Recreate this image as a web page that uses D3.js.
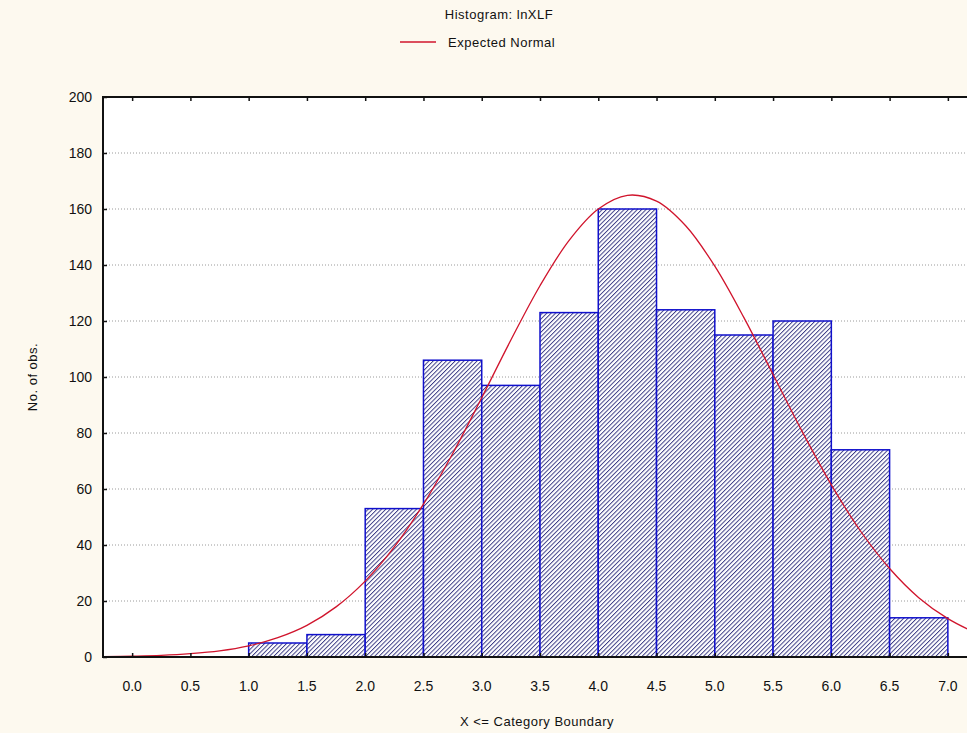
<!DOCTYPE html>
<html>
<head>
<meta charset="utf-8">
<script src="https://cdn.jsdelivr.net/npm/d3@7"></script>
<style>
  body { margin: 0; background: #fdf9ef; }
  text { font-family: "Liberation Sans", Arial, sans-serif; fill: #111; }
</style>
</head>
<body>
<script>
// histogram bins (lower boundary) and counts
var binStarts = [0.0, 0.5, 1.0, 1.5, 2.0, 2.5, 3.0, 3.5, 4.0, 4.5, 5.0, 5.5, 6.0, 6.5];
var counts    = [0,   0,   5,   8,   53,  106, 97,  123, 160, 124, 115, 120, 74,  14];

// expected normal curve
var curveX = [-0.25, 0, 0.25, 0.5, 0.75, 1, 1.25, 1.5, 1.75, 2, 2.25, 2.5, 2.75, 3, 3.25, 3.5,
              3.75, 4, 4.25, 4.5, 4.75, 5, 5.25, 5.5, 5.75, 6, 6.25, 6.5, 6.75, 7, 7.25];
var curveY = [0.1, 0.3, 0.6, 1.2, 2.2, 4.0, 6.9, 11.3, 17.9, 27.1, 39.3, 54.6, 72.6, 92.6, 113.2, 132.6,
              148.8, 160.0, 164.9, 162.8, 154.0, 139.6, 121.2, 100.9, 80.5, 61.5, 45.0, 31.6, 21.2, 13.7, 8.4];

var xTicks = d3.range(0, 7.01, 0.5);
var yTicks = d3.range(0, 201, 20);

var width = 967,
    height = 733;
var plotL = 103, plotT = 97, plotB = 657, plotR = 977;

var svg = d3.select('body')
  .append('svg')
    .attr('width', width)
    .attr('height', height)
    .style('display', 'block')

var x = d3.scaleLinear().domain([-0.25, 7.25]).range([plotL, plotR]);
var y = d3.scaleLinear().domain([0, 200]).range([plotB, plotT]);

var defs = svg.append('defs');
defs.append('pattern')
    .attr('id', 'hatch')
    .attr('patternUnits', 'userSpaceOnUse')
    .attr('width', 3.1)
    .attr('height', 10)
    .attr('patternTransform', 'rotate(45)')
  .append('line')
    .attr('x1', 0.5).attr('y1', 0)
    .attr('x2', 0.5).attr('y2', 10)
    .attr('stroke', '#2c2c7c')
    .attr('stroke-width', 0.9);

defs.append('clipPath').attr('id', 'plotclip')
  .append('rect')
    .attr('x', plotL).attr('y', plotT)
    .attr('width', plotR - plotL).attr('height', plotB - plotT);

// plot background
svg.append('rect')
    .attr('x', plotL).attr('y', plotT)
    .attr('width', plotR - plotL).attr('height', plotB - plotT)
    .attr('fill', '#fff');

// grid
svg.selectAll('.grid')
    .data(yTicks.filter(function(d){ return d > 0 && d < 200; })).enter()
  .append('line')
    .attr('class', 'grid')
    .attr('x1', plotL).attr('x2', plotR)
    .attr('y1', function(d){ return y(d); })
    .attr('y2', function(d){ return y(d); })
    .attr('stroke', '#9a9a9a')
    .attr('stroke-width', 1)
    .attr('stroke-dasharray', '1,2');

// bars
var bars = svg.selectAll('.bar')
    .data(binStarts.map(function(b, i){ return {x0: b, x1: b + 0.5, n: counts[i]}; })
      .filter(function(d){ return d.n > 0; })).enter()
  .append('g');

bars.append('rect')
    .attr('x', function(d){ return x(d.x0); })
    .attr('y', function(d){ return y(d.n); })
    .attr('width', function(d){ return x(d.x1) - x(d.x0); })
    .attr('height', function(d){ return y(0) - y(d.n); })
    .attr('fill', '#fff');
bars.append('rect')
    .attr('x', function(d){ return x(d.x0); })
    .attr('y', function(d){ return y(d.n); })
    .attr('width', function(d){ return x(d.x1) - x(d.x0); })
    .attr('height', function(d){ return y(0) - y(d.n); })
    .attr('fill', 'url(#hatch)')
    .attr('stroke', '#1010cc')
    .attr('stroke-width', 1.5);

// normal curve
var line = d3.line()
    .x(function(d, i){ return x(curveX[i]); })
    .y(function(d){ return y(d); })
    .curve(d3.curveCatmullRom);

svg.append('path')
    .datum(curveY)
    .attr('clip-path', 'url(#plotclip)')
    .attr('d', line)
    .attr('fill', 'none')
    .attr('stroke', '#d0142c')
    .attr('stroke-width', 1.3);

// frame
svg.append('path')
    .attr('d', 'M' + plotR + ',' + plotT + 'H' + plotL + 'V' + plotB + 'H' + plotR)
    .attr('fill', 'none')
    .attr('stroke', '#111')
    .attr('stroke-width', 2);

// axes (ticks pointing inward)
svg.append('g')
    .attr('transform', 'translate(0,' + plotB + ')')
    .call(d3.axisTop(x).tickValues(xTicks).tickSize(4).tickFormat(''));
svg.append('g')
    .attr('transform', 'translate(0,' + plotT + ')')
    .call(d3.axisBottom(x).tickValues(xTicks).tickSize(4).tickFormat(''));
svg.append('g')
    .attr('transform', 'translate(' + plotL + ',0)')
    .call(d3.axisRight(y).tickValues(yTicks).tickSize(4).tickFormat(''));
svg.selectAll('.domain').remove();
svg.selectAll('.tick line').attr('stroke', '#111').attr('stroke-width', 1.5);

// tick labels
svg.selectAll('.xlab')
    .data(xTicks).enter()
  .append('text')
    .attr('x', function(d){ return x(d); })
    .attr('y', 691)
    .attr('text-anchor', 'middle')
    .style('font-size', '14px')
    .text(function(d){ return d3.format('.1f')(d); });

svg.selectAll('.ylab')
    .data(yTicks).enter()
  .append('text')
    .attr('x', 92)
    .attr('y', function(d){ return y(d) + 5; })
    .attr('text-anchor', 'end')
    .style('font-size', '14px')
    .text(function(d){ return d; });

// titles
svg.append('text')
    .attr('x', 499).attr('y', 19)
    .attr('text-anchor', 'middle')
    .style('font-size', '13px')
    .style('letter-spacing', '0.5px')
    .text('Histogram: lnXLF');

svg.append('line')
    .attr('x1', 400).attr('x2', 436)
    .attr('y1', 42).attr('y2', 42)
    .attr('stroke', '#d0142c')
    .attr('stroke-width', 1.5);
svg.append('text')
    .attr('x', 448).attr('y', 47)
    .style('font-size', '13px')
    .style('letter-spacing', '0.5px')
    .text('Expected Normal');

svg.append('text')
    .attr('x', 537).attr('y', 726)
    .attr('text-anchor', 'middle')
    .style('font-size', '13px')
    .style('letter-spacing', '0.5px')
    .text('X <= Category Boundary');

svg.append('text')
    .attr('transform', 'translate(37,377) rotate(-90)')
    .attr('text-anchor', 'middle')
    .style('font-size', '13px')
    .style('letter-spacing', '0.5px')
    .text('No. of obs.');
</script>
</body>
</html>
